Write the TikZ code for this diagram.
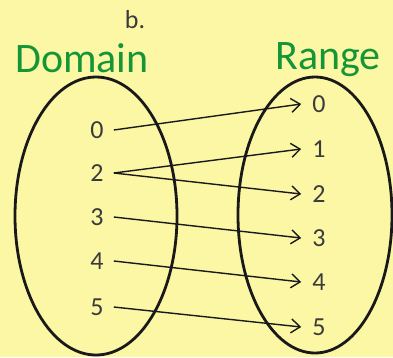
\documentclass[tikz,border=0pt]{standalone}
\usepackage{fontspec}
\setmainfont{Carlito}
\usetikzlibrary{arrows.meta}
\definecolor{paper}{RGB}{252,247,165}
\definecolor{pen}{RGB}{20,150,55}
\definecolor{ink}{RGB}{25,25,25}
\begin{document}
\begin{tikzpicture}[x=1pt,y=-1pt,
  oval/.style={draw=ink,line width=2.8pt},
  dnum/.style={font=\fontsize{26}{26}\selectfont,text=ink!85,inner xsep=10pt,inner ysep=2pt},
  rnum/.style={font=\fontsize{26}{26}\selectfont,text=ink!85,inner xsep=11pt,inner ysep=2pt},
  mapto/.style={draw=ink,line width=1.4pt,-{Straight Barb[length=9pt,width=14pt,line width=1.4pt]}},
  hand/.style={font=\fontsize{42}{42}\selectfont,text=pen}]
\fill[paper] (0,0) rectangle (393,357);
\useasboundingbox (0,0) rectangle (393,357);
\node[font=\fontsize{26}{26}\selectfont,text=ink!85] (lbl) at (135,20) {b.};
\node[hand] (dom) at (82,58) {Domain};
\node[hand] (rng) at (328,60) {Range};
\draw[oval] (96,216) ellipse [x radius=81, y radius=139];
\draw[oval] (315,215) ellipse [x radius=77, y radius=138];
\node[dnum] (d0) at (97,130) {0};
\node[dnum] (d2) at (97,173) {2};
\node[dnum] (d3) at (97,217) {3};
\node[dnum] (d4) at (97,261) {4};
\node[dnum] (d5) at (97,307) {5};
\node[rnum] (r0) at (319,104) {0};
\node[rnum] (r1) at (319,149) {1};
\node[rnum] (r2) at (319,194) {2};
\node[rnum] (r3) at (319,238) {3};
\node[rnum] (r4) at (319,282) {4};
\node[rnum] (r5) at (319,327) {5};
\draw[mapto] (d0.east) -- (r0.west);
\draw[mapto] (d2.east) -- (r1.west);
\draw[mapto] (d2.east) -- (r2.west);
\draw[mapto] (d3.east) -- (r3.west);
\draw[mapto] (d4.east) -- (r4.west);
\draw[mapto] (d5.east) -- (r5.west);
\end{tikzpicture}
\end{document}
